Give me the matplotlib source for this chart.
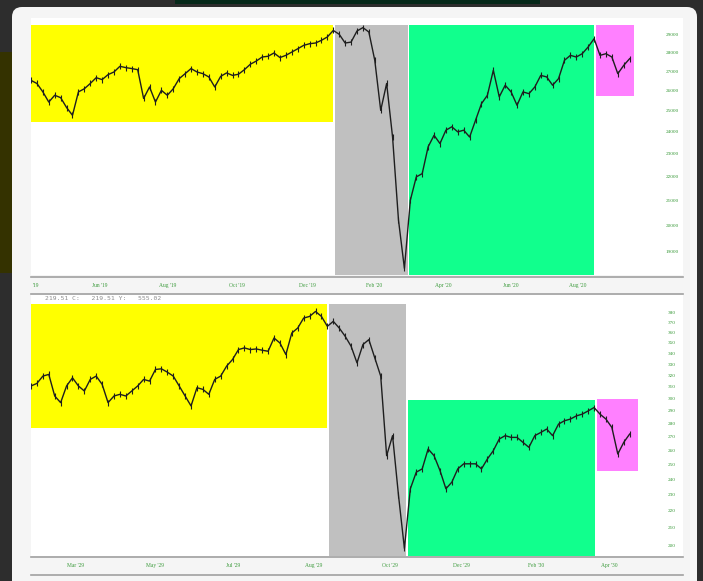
import numpy as np
import matplotlib
matplotlib.use("Agg")
import matplotlib.pyplot as plt
from matplotlib.patches import FancyBboxPatch, Rectangle
from matplotlib.transforms import blended_transform_factory

# Dow 2019-2020, roughly weekly closes
dow_2020 = [26560, 26400, 25970, 25460, 25800, 25680, 25190, 24810, 25970, 26130,
            26400, 26700, 26600, 26860, 27000, 27300, 27230, 27180, 27120, 25640,
            26220, 25460, 26050, 25800, 26130, 26650, 26910, 27180, 27000, 26910,
            26740, 26220, 26770, 26950, 26820, 26880, 27120, 27410, 27580, 27800,
            27840, 28020, 27770, 27890, 28070, 28250, 28440, 28530, 28570, 28720,
            28910, 29280, 29060, 28570, 28620, 29250, 29440, 29190, 27620, 25050,
            26400, 23780, 20220, 18400, 21020, 22000, 22140, 23330, 23860, 23480,
            24100, 24260, 24020, 24100, 23780, 24570, 25380, 25800, 27090, 25720,
            26310, 25970, 25300, 25970, 25880, 26220, 26820, 26740, 26310, 26650,
            27620, 27890, 27800, 27980, 28350, 28810, 27890, 27980, 27800, 26910,
            27350, 27710]

# Dow 1929-1930
dow_1929 = [311.0, 313.2, 319.6, 321.1, 302.5, 297.0, 311.0, 318.1, 311.0, 306.7,
            316.7, 319.6, 312.4, 297.0, 302.5, 303.9, 302.5, 306.7, 311.0, 316.7,
            315.2, 325.5, 326.1, 323.1, 319.6, 311.0, 302.5, 294.3, 309.5, 308.1,
            303.9, 316.7, 319.6, 328.5, 334.6, 343.9, 345.5, 343.9, 344.5, 343.3,
            342.3, 355.1, 350.2, 339.2, 360.0, 365.0, 375.2, 376.9, 382.1, 376.9,
            366.7, 371.8, 365.0, 356.8, 347.1, 331.5, 348.7, 353.5, 336.1, 319.6,
            256.5, 271.1, 229.9, 198.5, 234.1, 245.1, 247.3, 261.3, 256.5, 246.2,
            234.1, 238.4, 247.3, 250.8, 250.8, 250.8, 247.3, 254.2, 260.1, 268.6,
            271.1, 269.8, 269.8, 266.1, 262.5, 271.1, 273.5, 276.1, 271.1, 279.9,
            282.5, 283.8, 286.3, 287.7, 290.3, 293.0, 287.7, 283.8, 277.3, 257.7,
            266.1, 272.3]

top_yticks = [29000, 28000, 27000, 26000, 25000, 24000, 23000, 22000, 21000, 20000, 19000]
bot_yticks = [380, 370, 360, 350, 340, 330, 320, 310, 300, 290, 280, 270, 260, 250,
              240, 230, 220, 210, 200]

top_xlabels = ["Jun '19", "Aug '19", "Oct '19", "Dec '19", "Feb '20", "Apr '20", "Jun '20", "Aug '20"]
top_xpos = [11.65, 23.0, 34.75, 46.6, 57.9, 69.5, 81.0, 92.3]
bot_xlabels = ["Mar '29", "May '29", "Jul '29", "Aug '29", "Oct '29", "Dec '29", "Feb '30", "Apr '30"]
bot_xpos = [7.5, 20.9, 34.1, 47.7, 60.6, 72.7, 85.2, 97.6]

# highlighted phases: (start, end, low, high)
top_spans = [(0, 50.9, 24480, 29571, '#ffff00'),
             (51.3, 63.6, 18166, 29571, '#c0c0c0'),
             (63.8, 94.96, 18166, 29571, '#11ff8d'),
             (95.3, 101.7, 25750, 29571, '#ff80ff')]
bot_spans = [(0, 49.9, 277.1, 390.6, '#ffff00'),
             (50.3, 63.3, 194.4, 390.6, '#c0c0c0'),
             (63.6, 95.1, 194.4, 299.2, '#11ff8d'),
             (95.5, 102.4, 246.2, 300.0, '#ff80ff')]

W, H = 703, 581
fig = plt.figure(figsize=(W / 100, H / 100), dpi=100)
fig.patch.set_facecolor('#2d2d2d')

# background / modal frame in pixel coords
bg = fig.add_axes([0, 0, 1, 1])
bg.set_xlim(0, W)
bg.set_ylim(H, 0)
bg.axis('off')
bg.add_patch(Rectangle((175, 0), 365, 4, color='#06291a', lw=0))
bg.add_patch(Rectangle((0, 52), 12, 221, color='#343200', lw=0))
bg.add_patch(FancyBboxPatch((22, 17), 665, 600, boxstyle='round,pad=10,rounding_size=10',
                            fc='#f5f5f5', ec='none'))
bg.add_patch(Rectangle((31, 18), 652, 6, color='white', lw=0))
for yl in [276.5, 293.5, 557, 575]:
    bg.plot([31, 683], [yl, yl], color='#a0a0a0', lw=1.2)
bg.add_patch(Rectangle((31, 294.5), 652, 9, color='white', lw=0))
bg.text(45, 299, "219.51 C:   219.51 Y:   555.02", family='DejaVu Sans Mono',
        fontsize=4.6, color='#8c8c8c', va='center', ha='left')


def make_panel(rect, close, spans, ylo, yhi, yticks, xpos, xlabels, lab_y):
    ax = fig.add_axes(rect)
    ax.set_facecolor('white')
    ax.set_yscale('log')
    for x0, x1, y0, y1, c in spans:
        ax.fill_between([x0, x1], y0, y1, color=c, lw=0, zorder=1)
    x = np.arange(len(close))
    ax.plot(x, close, color='#1e1e1e', lw=1.0, marker='|', ms=5, mew=0.8, zorder=3)
    ax.set_xlim(0, 110)
    ax.set_ylim(ylo, yhi)
    for s in ax.spines.values():
        s.set_visible(False)
    ax.tick_params(which='both', left=False, bottom=False, labelleft=False, labelbottom=False)
    tr = blended_transform_factory(ax.transAxes, ax.transData)
    for v in yticks:
        ax.text(0.983, v, str(v), transform=tr, fontsize=3.8, family='Liberation Serif',
                color='#3a9a3a', ha='center', va='center')
    trx = blended_transform_factory(ax.transData, ax.transAxes)
    for p, l in zip(xpos, xlabels):
        ax.text(p, lab_y, l, transform=trx, fontsize=4, family='Liberation Serif',
                color='#3a9a3a', ha='center', va='baseline', clip_on=False)
    return ax


def rect_px(top, bottom):
    return [31 / W, 1 - bottom / H, (683 - 31) / W, (bottom - top) / H]


ax1 = make_panel(rect_px(24, 275), dow_2020, top_spans, 18166, 29650,
                 top_yticks, top_xpos, top_xlabels, -12 / 251)
ax1.text(0.002, -12 / 251, "'19", transform=ax1.transAxes, fontsize=4,
         family='Liberation Serif', color='#3a9a3a', ha='left', va='baseline')

ax2 = make_panel(rect_px(303.5, 556), dow_1929, bot_spans, 194.4, 390.6,
                 bot_yticks, bot_xpos, bot_xlabels, -11 / 252.5)

fig.savefig('out.png', dpi=100, facecolor=fig.get_facecolor())
